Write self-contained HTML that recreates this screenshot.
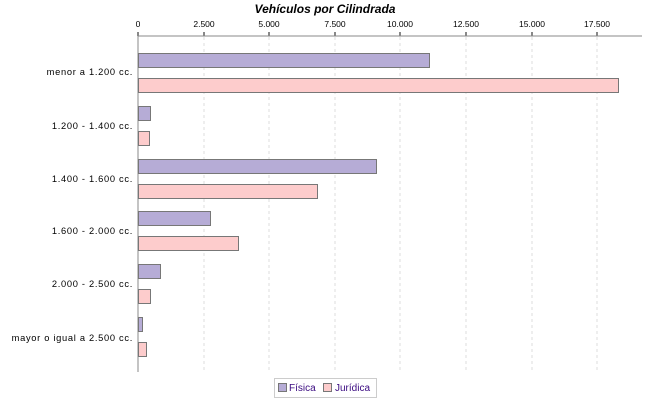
<!DOCTYPE html><html><head><style>body{margin:0;background:#fff}</style></head><body>
<svg width="650" height="400" xmlns="http://www.w3.org/2000/svg" font-family="Liberation Sans, sans-serif">
<text x="325" y="13" text-anchor="middle" font-size="12" font-weight="bold" font-style="italic">Vehículos por Cilindrada</text>
<g stroke="#ddd" stroke-dasharray="3,3">
<line x1="204" y1="37" x2="204" y2="372"/><line x1="269" y1="37" x2="269" y2="372"/><line x1="335" y1="37" x2="335" y2="372"/><line x1="400" y1="37" x2="400" y2="372"/><line x1="466" y1="37" x2="466" y2="372"/><line x1="532" y1="37" x2="532" y2="372"/><line x1="597" y1="37" x2="597" y2="372"/>
</g>
<line x1="138" y1="36" x2="642" y2="36" stroke="#888"/>
<line x1="138" y1="36" x2="138" y2="372" stroke="#888"/>
<g font-size="8.5" text-anchor="middle" fill="#000">
<text x="138" y="27">0</text><text x="204" y="27">2.500</text><text x="269" y="27">5.000</text><text x="335" y="27">7.500</text><text x="400" y="27">10.000</text><text x="466" y="27">12.500</text><text x="532" y="27">15.000</text><text x="597" y="27">17.500</text>
</g>
<g stroke="#888" stroke-width="2">
<line x1="138" y1="32" x2="138" y2="36"/><line x1="204" y1="32" x2="204" y2="36"/><line x1="269" y1="32" x2="269" y2="36"/><line x1="335" y1="32" x2="335" y2="36"/><line x1="400" y1="32" x2="400" y2="36"/><line x1="466" y1="32" x2="466" y2="36"/><line x1="532" y1="32" x2="532" y2="36"/><line x1="597" y1="32" x2="597" y2="36"/>
</g>
<g font-size="9.3" text-anchor="end" letter-spacing="0.7">
<text x="133" y="75">menor a 1.200 cc.</text><text x="133" y="129">1.200 - 1.400 cc.</text><text x="133" y="182">1.400 - 1.600 cc.</text><text x="133" y="234">1.600 - 2.000 cc.</text><text x="133" y="287">2.000 - 2.500 cc.</text><text x="133" y="341">mayor o igual a 2.500 cc.</text>
</g>
<g stroke="#777" stroke-width="1">
<rect x="138.5" y="53.5" width="291" height="14" fill="#b6acd6"/><rect x="138.5" y="78.5" width="480" height="14" fill="#fdcccc"/>
<rect x="138.5" y="106.5" width="12" height="14" fill="#b6acd6"/><rect x="138.5" y="131.5" width="11" height="14" fill="#fdcccc"/>
<rect x="138.5" y="159.5" width="238" height="14" fill="#b6acd6"/><rect x="138.5" y="184.5" width="179" height="14" fill="#fdcccc"/>
<rect x="138.5" y="211.5" width="72" height="14" fill="#b6acd6"/><rect x="138.5" y="236.5" width="100" height="14" fill="#fdcccc"/>
<rect x="138.5" y="264.5" width="22" height="14" fill="#b6acd6"/><rect x="138.5" y="289.5" width="12" height="14" fill="#fdcccc"/>
<rect x="138.5" y="317.5" width="4" height="14" fill="#b6acd6"/><rect x="138.5" y="342.5" width="8" height="14" fill="#fdcccc"/>
</g>
<rect x="274.5" y="378.5" width="102" height="19" fill="#fff" stroke="#ccc"/>
<rect x="278.5" y="383.5" width="8" height="8" fill="#b6acd6" stroke="#777"/>
<text x="289" y="391" font-size="10" fill="#3a0a80">Física</text>
<rect x="323.5" y="383.5" width="8" height="8" fill="#fdcccc" stroke="#777"/>
<text x="335" y="391" font-size="10" fill="#3a0a80">Jurídica</text>
</svg>
</body></html>
